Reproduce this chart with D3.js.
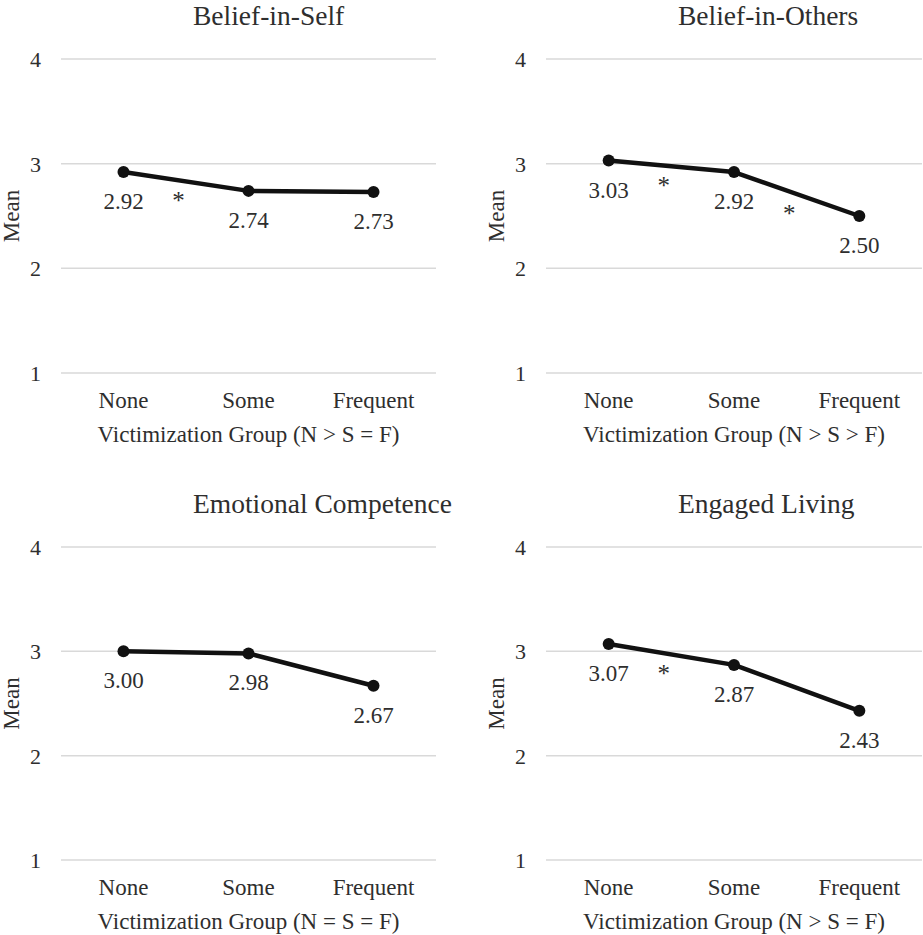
<!DOCTYPE html>
<html>
<head>
<meta charset="utf-8">
<script src="https://cdn.jsdelivr.net/npm/d3@7"></script>
<style>
  html, body { margin: 0; padding: 0; background: #fff; }
  svg { display: block; }
  text { font-family: "Liberation Serif", "Times New Roman", serif; fill: #2e2e2e; }
</style>
</head>
<body>
<div id="chart"></div>
<script>
// ---- data ----
const categories = ["None", "Some", "Frequent"];
const yTicks = [1, 2, 3, 4];
const titles = ["Belief-in-Self", "Belief-in-Others", "Emotional Competence", "Engaged Living"];
const xTitles = [
  "Victimization Group (N > S = F)",
  "Victimization Group (N > S > F)",
  "Victimization Group (N = S = F)",
  "Victimization Group (N > S = F)"
];
const beliefInSelf = [2.92, 2.74, 2.73];
const beliefInOthers = [3.03, 2.92, 2.50];
const emotionalCompetence = [3.00, 2.98, 2.67];
const engagedLiving = [3.07, 2.87, 2.43];
const seriesValues = [beliefInSelf, beliefInOthers, emotionalCompetence, engagedLiving];
// significant differences: index i marks the segment between category i and i+1
const significant = [[0], [0, 1], [], [0]];

// ---- layout ----
const W = 923, H = 935;
const panels = [
  { x0: 61, x1: 436, yTop: 59, yBot: 373, titleX: 193, titleY: 25, meanX: 19 },
  { x0: 546, x1: 922, yTop: 59, yBot: 373, titleX: 678, titleY: 25, meanX: 504 },
  { x0: 61, x1: 436, yTop: 547, yBot: 860, titleX: 193, titleY: 513, meanX: 19 },
  { x0: 546, x1: 922, yTop: 547, yBot: 860, titleX: 678, titleY: 513, meanX: 504 }
];

const svg = d3.select("#chart").append("svg")
  .attr("width", W).attr("height", H);

panels.forEach((p, k) => {
  const values = seriesValues[k];
  const x = d3.scaleBand().domain(categories).range([p.x0, p.x1]);
  const y = d3.scaleLinear().domain([1, 4]).range([p.yBot, p.yTop]);
  const cx = c => x(c) + x.bandwidth() / 2;
  const g = svg.append("g");

  // title
  g.append("text")
    .attr("x", p.titleX).attr("y", p.titleY)
    .attr("font-size", 27.5)
    .text(titles[k]);

  // gridlines
  g.selectAll(".grid").data(yTicks).enter().append("line")
    .attr("x1", p.x0).attr("x2", p.x1)
    .attr("y1", d => y(d)).attr("y2", d => y(d))
    .attr("stroke", "#d9d9d9").attr("stroke-width", 1.5);

  // y axis (labels only)
  const yAxis = d3.axisLeft(y).tickValues(yTicks).tickFormat(d3.format("d")).tickSize(0).tickPadding(20);
  const ya = g.append("g").attr("transform", `translate(${p.x0},0)`).call(yAxis);
  ya.select(".domain").remove();
  ya.selectAll("text")
    .attr("font-size", 22)
    .attr("font-family", "Liberation Serif, Times New Roman, serif")
    .attr("fill", "#2e2e2e")
    .attr("dy", "0.34em");

  // x axis (labels only)
  const xAxis = d3.axisBottom(x).tickSize(0).tickPadding(0);
  const xa = g.append("g").attr("transform", `translate(0,${p.yBot + 35})`).call(xAxis);
  xa.select(".domain").remove();
  xa.selectAll("text")
    .attr("font-size", 23)
    .attr("font-family", "Liberation Serif, Times New Roman, serif")
    .attr("fill", "#2e2e2e")
    .attr("y", 0).attr("dy", 0);

  // x title
  g.append("text")
    .attr("x", (p.x0 + p.x1) / 2).attr("y", p.yBot + 69)
    .attr("text-anchor", "middle").attr("font-size", 23)
    .text(xTitles[k]);

  // y title
  g.append("text")
    .attr("transform", `translate(${p.meanX},${(p.yTop + p.yBot) / 2}) rotate(-90)`)
    .attr("text-anchor", "middle").attr("font-size", 23)
    .text("Mean");

  // line
  const line = d3.line().x((d, i) => cx(categories[i])).y(d => y(d));
  g.append("path").datum(values)
    .attr("d", line)
    .attr("fill", "none").attr("stroke", "#111").attr("stroke-width", 4.5)
    .attr("stroke-linejoin", "round");

  // points
  g.selectAll(".pt").data(values).enter().append("circle")
    .attr("cx", (d, i) => cx(categories[i])).attr("cy", d => y(d))
    .attr("r", 6).attr("fill", "#111");

  // value labels
  g.selectAll(".lbl").data(values).enter().append("text")
    .attr("x", (d, i) => cx(categories[i])).attr("y", d => y(d) + 37)
    .attr("text-anchor", "middle").attr("font-size", 23)
    .text(d => d3.format(".2f")(d));

  // asterisks
  g.selectAll(".ast").data(significant[k]).enter().append("text")
    .attr("x", i => cx(categories[i]) + 0.44 * (cx(categories[i + 1]) - cx(categories[i])))
    .attr("y", i => (y(values[i]) + y(values[i + 1])) / 2 + 28)
    .attr("text-anchor", "middle").attr("font-size", 25)
    .attr("fill", "#111")
    .text("*");
});
</script>
</body>
</html>
